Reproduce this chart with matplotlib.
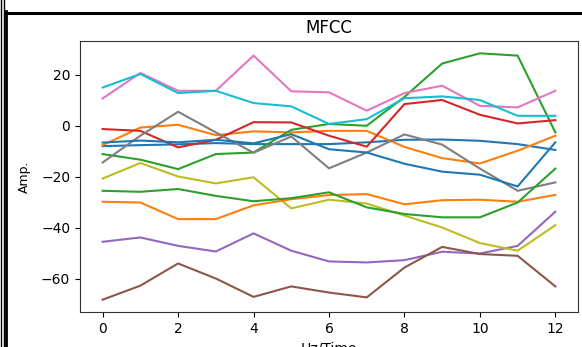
import matplotlib

matplotlib.use("Agg")
import matplotlib.pyplot as plt
from matplotlib.lines import Line2D

W, H = 582, 347

# frame index along the x axis
frames = list(range(13))

# one list per MFCC coefficient (colour cycle C0..C9, then C0..C2 again)
c00 = [-8.0, -7.6, -7.3, -6.8, -7.2, -7.2, -7.2, -6.5, -5.5, -5.4, -5.9, -7.2, -9.5]
c01 = [-7.6, -0.7, 0.4, -3.7, -2.2, -2.6, -2.0, -2.0, -8.3, -12.7, -14.8, -9.8, -3.9]
c02 = [-11.1, -13.3, -17.0, -11.1, -10.5, -1.6, 0.7, 0.0, 11.3, 24.4, 28.4, 27.5, -2.6]
c03 = [-1.3, -2.0, -8.5, -5.5, 1.4, 1.3, -3.9, -8.2, 8.5, 10.1, 4.3, 0.9, 2.2]
c04 = [-45.5, -43.8, -47.1, -49.3, -42.2, -49.0, -53.2, -53.6, -52.7, -49.4, -50.1, -47.1, -33.7]
c05 = [-68.2, -62.7, -54.0, -59.9, -67.1, -63.0, -65.4, -67.3, -55.6, -47.5, -50.3, -51.0, -63.0]
c06 = [10.7, 20.7, 13.7, 13.7, 27.5, 13.5, 13.1, 5.9, 12.8, 15.7, 7.8, 7.2, 13.7]
c07 = [-14.4, -3.9, 5.5, -2.6, -10.6, -4.2, -16.7, -10.5, -3.4, -7.4, -16.8, -25.5, -22.2]
c08 = [-20.7, -14.6, -19.9, -22.6, -20.2, -32.4, -29.0, -30.5, -35.2, -39.9, -46.0, -49.0, -39.0]
c09 = [15.0, 20.3, 12.8, 13.7, 8.9, 7.6, 0.7, 2.6, 10.8, 11.5, 10.1, 3.9, 3.9]
c10 = [-6.6, -5.8, -6.5, -5.5, -6.9, -3.3, -9.2, -10.5, -14.9, -18.0, -19.2, -23.8, -6.5]
c11 = [-29.8, -30.1, -36.6, -36.6, -31.2, -28.8, -27.2, -26.8, -30.8, -29.2, -29.0, -29.8, -27.1]
c12 = [-25.5, -25.9, -24.8, -27.5, -29.6, -28.4, -26.1, -32.0, -34.6, -35.9, -35.9, -30.1, -16.8]

coefficients = [c00, c01, c02, c03, c04, c05, c06, c07, c08, c09, c10, c11, c12]

fig = plt.figure(figsize=(W / 100, H / 100), dpi=100)
ax = fig.add_axes([80 / W, 1 - 312 / H, (578 - 80) / W, (312 - 41) / H])

for coef in coefficients:
    ax.plot(frames, coef, lw=1.5)

ax.set_title("MFCC", fontsize=12)
# the reference screenshot crops the x label at the bottom edge
ax.set_xlabel("Hz/Time", fontsize=10)
ax.set_ylabel("Amp.", fontsize=9, labelpad=7)
ax.tick_params(labelsize=10)
for sp in ax.spines.values():
    sp.set_color("#333333")

# frame of the screenshot around the figure
def px_line(x0, y0, x1, y1, lw):
    fig.add_artist(Line2D([x0 / W, x1 / W], [1 - y0 / H, 1 - y1 / H],
                          transform=fig.transFigure, color="black", lw=lw))

px_line(0.5, 0, 0.5, H, 1.0)
px_line(3.5, 0, 3.5, H, 1.0)
px_line(6, 11, 6, H, 2.0)
px_line(5, 12.5, W, 12.5, 2.2)

fig.savefig("out.png", dpi=100)
